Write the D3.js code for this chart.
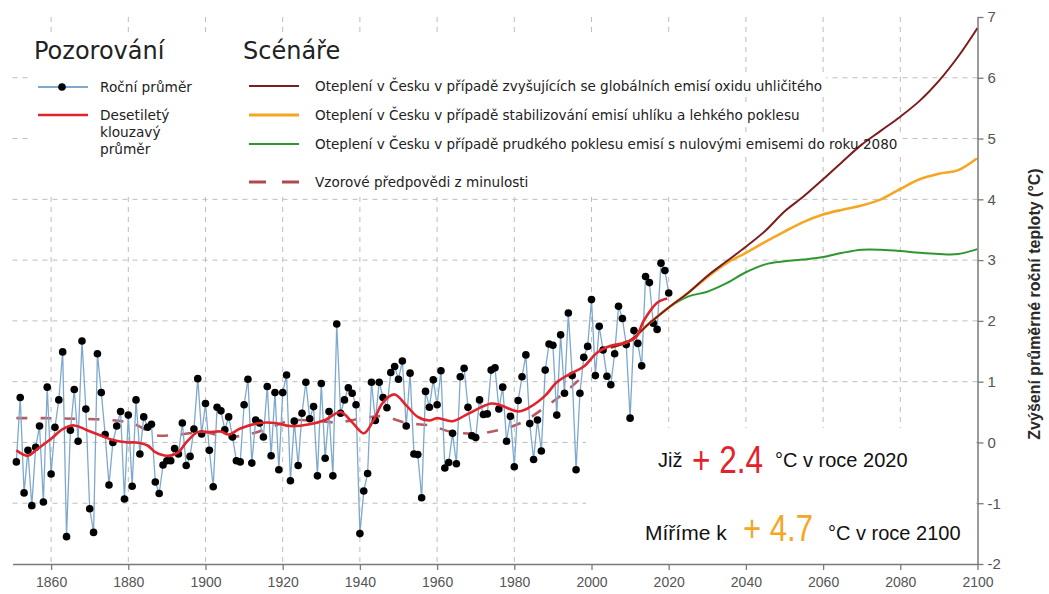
<!DOCTYPE html>
<html><head><meta charset="utf-8">
<script src="https://cdn.jsdelivr.net/npm/d3@7"></script>
<style>body{margin:0;background:#fff} svg{display:block}</style>
</head><body>
<svg id="c" width="1049" height="594"></svg>
<script>
// ---------- DATA ----------
const annualStartYear = 1851;
const annualValues = [
 -0.32, 0.74,-0.83,-0.13,-1.04,-0.08, 0.27,-0.98, 0.91,-0.52, // 1851-1860
  0.25, 0.70, 1.49,-1.55, 0.20, 0.87, 0.02, 1.67, 0.55,-1.09, // 1861-1870
 -1.48, 1.46, 0.82, 0.13,-0.70, 0.00, 0.27, 0.51,-0.93, 0.45, // 1871-1880
 -0.72, 0.70,-0.19, 0.42, 0.25, 0.30,-0.65,-0.84,-0.37,-0.30, // 1881-1890
 -0.30,-0.10,-0.19, 0.32,-0.38,-0.23, 0.22, 1.05, 0.14, 0.64, // 1891-1900
 -0.13,-0.73, 0.58, 0.52, 0.21, 0.42, 0.09,-0.30,-0.32, 0.62, // 1901-1910
  1.04,-0.34, 0.37, 0.32, 0.09, 0.92,-0.22, 0.82,-0.45, 0.82, // 1911-1920
  1.11,-0.63, 0.35,-0.38, 0.48, 0.99, 0.39, 0.59,-0.55, 0.97, // 1921-1930
 -0.26, 0.51,-0.55, 1.95, 0.48, 0.70, 0.90, 0.81, 0.62,-1.50, // 1931-1940
 -0.80,-0.51, 0.99, 0.36, 0.99, 0.74, 0.57, 1.15, 1.25, 1.04, // 1941-1950
  1.34, 0.27, 1.14,-0.19,-0.20,-0.91, 0.84, 0.58, 1.03, 0.62, // 1951-1960
  1.18,-0.42,-0.33, 0.15,-0.35, 1.08, 1.22, 0.58, 0.11, 0.08, // 1961-1970
  0.70, 0.46, 0.47, 1.19, 1.23, 0.55, 0.91, 0.02, 0.43,-0.40, // 1971-1980
  0.69, 1.08, 1.44, 0.31,-0.28, 0.37,-0.14, 1.19, 1.62, 1.60, // 1981-1990
  0.45, 1.77, 0.81, 2.13, 1.10,-0.45, 0.81, 1.40, 1.58, 2.35, // 1991-2000
  1.10, 1.91, 1.52, 1.09, 0.95, 1.46, 2.24, 2.04, 1.61, 0.40, // 2001-2010
  1.84, 1.63, 1.26, 2.73, 2.63, 1.96, 1.86, 2.95, 2.83, 2.46  // 2011-2020
];
const avgYears  = [1851,1854,1856,1860,1863,1866,1869,1873,1876,1880,1882,1885,1887,1890,1893,1895,1898,1901,1904,1906,1909,1914,1918,1922,1927,1931,1935,1938,1941,1943.5,1946,1949,1952,1955,1958,1960,1964,1968,1974,1976.5,1981,1984,1988,1991,1994.5,1998,2001.5,2005,2008.5,2011.5,2013.5,2017,2019.6];
const avgValues = [-0.13,-0.22,-0.13,0.06,0.22,0.28,0.21,0.11,0.04,0.00,0.00,-0.05,-0.16,-0.22,-0.16,0.00,0.17,0.17,0.18,0.13,0.23,0.32,0.32,0.27,0.30,0.37,0.50,0.33,0.15,0.36,0.66,0.79,0.61,0.42,0.36,0.40,0.35,0.47,0.64,0.61,0.51,0.58,0.77,0.99,1.13,1.25,1.48,1.59,1.64,1.73,2.00,2.30,2.37];
const pastYears  = [1851,1858,1866,1875,1880,1883,1887,1893,1900,1905,1911,1917,1922,1928,1934,1941,1946,1952,1958,1964,1971,1977,1982,1988,1993,1998];
const pastValues = [0.40,0.40,0.39,0.37,0.33,0.26,0.12,0.13,0.17,0.09,0.13,0.25,0.36,0.36,0.33,0.40,0.43,0.32,0.28,0.17,0.15,0.22,0.33,0.58,0.82,1.10];
const scenarioYears = [2005,2010,2015,2020,2025,2030,2035,2040,2045,2050,2055,2060,2065,2070,2075,2080,2085,2090,2095,2100];
const highValues = [1.56,1.68,1.96,2.22,2.46,2.74,2.98,3.22,3.48,3.80,4.05,4.33,4.62,4.90,5.13,5.36,5.62,5.95,6.35,6.82];
const midValues  = [1.56,1.68,1.96,2.22,2.46,2.72,2.95,3.12,3.30,3.47,3.63,3.75,3.83,3.90,4.00,4.17,4.33,4.42,4.48,4.68];
const lowValues  = [1.56,1.68,1.96,2.22,2.40,2.48,2.62,2.80,2.93,2.98,3.01,3.05,3.12,3.17,3.17,3.15,3.12,3.10,3.10,3.18];
const xTickValues = [1860,1880,1900,1920,1940,1960,1980,2000,2020,2040,2060,2080,2100];
const yTickValues = [-2,-1,0,1,2,3,4,5,6,7];
const obsTitle = "Pozorování";
const scenTitle = "Scénáře";
const obsLabels = ["Roční průměr", ["Desetiletý","klouzavý","průměr"]];
const scenLabels = [
  "Oteplení v Česku v případě zvyšujících se globálních emisí oxidu uhličitého",
  "Oteplení v Česku v případě stabilizování emisí uhlíku a lehkého poklesu",
  "Oteplení v Česku v případě prudkého poklesu emisí s nulovými emisemi do roku 2080",
  "Vzorové předpovědi z minulosti"
];
const yTitle = "Zvýšení průměrné roční teploty (°C)";

// ---------- STYLE ----------
const C = {grid:"#bdbdbd", axis:"#7a7a7a", tick:"#555", blue:"#7ea9cf", avg:"#e3232b",
  past:"#b04850", high:"#7b1c1f", mid:"#f5a623", low:"#2f972f", text:"#222"};

const svg = d3.select("#c");
const x = d3.scaleLinear().domain([1850,2100]).range([12.5,977.5]);
const y = d3.scaleLinear().domain([-2,7]).range([564,17]);

// grid
const g = svg.append("g");
g.selectAll("line.v").data(xTickValues.filter(d=>d<2100)).join("line")
  .attr("x1",d=>x(d)).attr("x2",d=>x(d)).attr("y1",y(7)).attr("y2",y(-2))
  .attr("stroke",C.grid).attr("stroke-dasharray","5,5");
g.selectAll("line.h").data(yTickValues.filter(d=>d>-2&&d<7)).join("line")
  .attr("x1",x(1850)).attr("x2",x(2100)).attr("y1",d=>y(d)).attr("y2",d=>y(d))
  .attr("stroke",C.grid).attr("stroke-dasharray","5,5");

// white boxes
svg.append("rect").attr("x",28).attr("y",32).attr("width",717).attr("height",160).attr("fill","#fff");
svg.append("rect").attr("x",586).attr("y",428).attr("width",390).attr("height",135).attr("fill","#fff");
const bgLayer = svg.append("g");

// data
const annual = annualValues.map((v,i)=>({year:annualStartYear+i, v}));
const zip = (ys,vs)=>ys.map((yr,i)=>({year:yr, v:vs[i]}));
const sLine = d3.line().x(d=>x(d.year)).y(d=>y(d.v)).curve(d3.curveCatmullRom);

svg.append("path").datum(zip(pastYears,pastValues)).attr("d",sLine)
  .attr("fill","none").attr("stroke",C.past).attr("stroke-width",2.6).attr("stroke-dasharray","11,13").attr("opacity",0.9);

svg.append("path").attr("d", d3.line().x(d=>x(d.year)).y(d=>y(d.v))(annual))
  .attr("fill","none").attr("stroke",C.blue).attr("stroke-width",1.3);
svg.append("g").selectAll("circle").data(annual).join("circle")
  .attr("cx",d=>x(d.year)).attr("cy",d=>y(d.v)).attr("r",3.8).attr("fill","#000");

svg.append("path").datum(zip(scenarioYears,lowValues)).attr("d",sLine)
  .attr("fill","none").attr("stroke",C.low).attr("stroke-width",2);
svg.append("path").datum(zip(scenarioYears,midValues)).attr("d",sLine)
  .attr("fill","none").attr("stroke",C.mid).attr("stroke-width",2.6);
svg.append("path").datum(zip(scenarioYears,highValues)).attr("d",sLine)
  .attr("fill","none").attr("stroke",C.high).attr("stroke-width",2);

svg.append("path").datum(zip(avgYears,avgValues)).attr("d",sLine)
  .attr("fill","none").attr("stroke",C.avg).attr("stroke-width",2.6);

// axes
const xa = svg.append("g").attr("transform",`translate(0,${y(-2)})`)
  .call(d3.axisBottom(x).tickValues(xTickValues).tickFormat(d=>String(d)).tickSize(6).tickSizeOuter(0));
const ya = svg.append("g").attr("transform",`translate(${x(2100)},0)`)
  .call(d3.axisRight(y).tickValues(yTickValues).tickFormat(d=>String(d)).tickSize(6).tickSizeOuter(0).tickPadding(4));
[xa,ya].forEach(a=>{
  a.select(".domain").attr("stroke",C.axis).attr("stroke-width",1.5);
  a.selectAll(".tick line").attr("stroke",C.axis).attr("stroke-width",1.3);
  a.selectAll("text").attr("fill",C.tick).attr("font-family","Liberation Sans, Arial, sans-serif");
});
xa.selectAll("text").attr("font-size",14).attr("dy","1em");
ya.selectAll("text").attr("font-size",15);

svg.append("text").attr("transform",`translate(1034,304) rotate(-90)`)
  .attr("text-anchor","middle").attr("dominant-baseline","central")
  .attr("font-family","Liberation Sans, Arial, sans-serif").attr("font-weight","bold")
  .attr("font-size",16).attr("fill","#2a2a2a").text(yTitle);

// legend
const lf = "DejaVu Sans, sans-serif";
svg.append("text").attr("x",34).attr("y",59).attr("font-family",lf).attr("font-size",24).attr("fill",C.text).text(obsTitle);
svg.append("text").attr("x",243).attr("y",59).attr("font-family",lf).attr("font-size",24).attr("fill",C.text).text(scenTitle);

svg.append("line").attr("x1",38).attr("x2",88).attr("y1",87).attr("y2",87).attr("stroke",C.blue).attr("stroke-width",2);
svg.append("circle").attr("cx",62).attr("cy",87).attr("r",3.8).attr("fill","#000");
svg.append("text").attr("x",100).attr("y",87).attr("dy","0.35em").attr("font-family",lf).attr("font-size",13.7).attr("fill",C.text).text(obsLabels[0]);
svg.append("line").attr("x1",38).attr("x2",88).attr("y1",115).attr("y2",115).attr("stroke",C.avg).attr("stroke-width",2.6);
obsLabels[1].forEach((t,i)=>svg.append("text").attr("x",100).attr("y",115+i*17).attr("dy","0.35em")
  .attr("font-family",lf).attr("font-size",13.7).attr("fill",C.text).text(t));

const scenRows = [86,115,144,182];
const scenStyles = [{c:C.high,w:2.2},{c:C.mid,w:3},{c:C.low,w:2.2},{c:C.past,w:3,dash:"17,16"}];
scenLabels.forEach((t,i)=>{
  svg.append("line").attr("x1",249).attr("x2",299).attr("y1",scenRows[i]).attr("y2",scenRows[i])
    .attr("stroke",scenStyles[i].c).attr("stroke-width",scenStyles[i].w)
    .attr("stroke-dasharray",scenStyles[i].dash||null);
  const tx = svg.append("text").attr("x",315).attr("y",scenRows[i]).attr("dy","0.35em")
    .attr("font-family",lf).attr("font-size",13.55).attr("fill",C.text).text(t);
  const w = tx.node().getComputedTextLength();
  bgLayer.append("rect").attr("x",315).attr("y",scenRows[i]-9).attr("width",w+4).attr("height",18).attr("fill","#fff");
});

// annotations
const af = "Liberation Sans, Arial, sans-serif";
svg.append("text").attr("x",658).attr("y",467).attr("font-family",af).attr("font-size",20).attr("fill","#111").text("Již");
svg.append("text").attr("x",692).attr("y",473).attr("font-family",af).attr("font-size",38).attr("fill",C.avg)
  .attr("textLength",71).attr("lengthAdjust","spacingAndGlyphs").text("+ 2.4");
svg.append("text").attr("x",775).attr("y",467).attr("font-family",af).attr("font-size",20).attr("fill","#111").text("°C v roce 2020");
svg.append("text").attr("x",645).attr("y",540).attr("font-family",af).attr("font-size",21).attr("fill","#111").text("Míříme k");
svg.append("text").attr("x",743).attr("y",541).attr("font-family",af).attr("font-size",37).attr("fill",C.mid)
  .attr("textLength",70).attr("lengthAdjust","spacingAndGlyphs").text("+ 4.7");
svg.append("text").attr("x",828).attr("y",540).attr("font-family",af).attr("font-size",20).attr("fill","#111").text("°C v roce 2100");
</script>
</body></html>
